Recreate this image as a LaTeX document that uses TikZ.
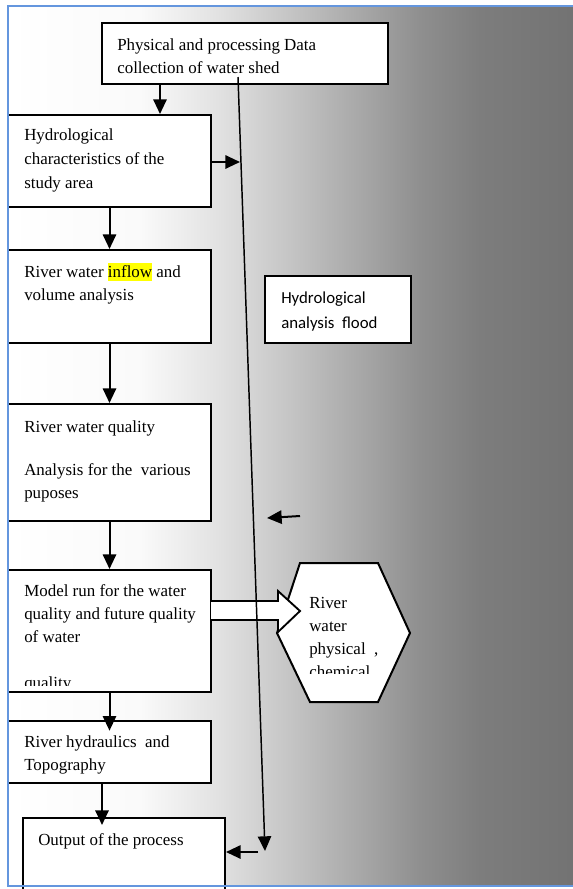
\documentclass[tikz,border=0pt]{standalone}
\usepackage{fontspec}
\setmainfont{Liberation Serif}
\newfontfamily\calib{Carlito}
\usetikzlibrary{arrows.meta,fit}
\definecolor{frameblue}{RGB}{100,150,222}
\definecolor{hlyellow}{RGB}{255,255,0}
\pgfdeclarehorizontalshading{bggrad}{100bp}{color(0bp)=(white); color(25bp)=(white); color(36.7bp)=(black!2); color(43.3bp)=(black!11); color(50bp)=(black!23); color(61.5bp)=(black!44); color(66.8bp)=(black!51); color(75bp)=(black!55); color(100bp)=(black!55)}
\newcommand{\hlword}[1]{{\setlength{\fboxsep}{0pt}\colorbox{hlyellow}{\rule[-0.22em]{0pt}{1.05em}#1}}}
\begin{document}
\begin{tikzpicture}[x=0.75pt,y=-0.75pt,
  box/.style={draw=black, line width=1.5pt, fill=white, inner sep=0pt},
  txt/.style={anchor=base west, inner sep=0pt, font=\fontsize{12.7}{17.25}\selectfont},
  arr/.style={line width=1.5pt, -{Triangle[length=11pt,width=10pt]}},
  thinarr/.style={line width=1.1pt, -{Triangle[length=11pt,width=10pt]}},
]
\useasboundingbox (0,0) rectangle (573,889);
% background frame
\shade[shading=bggrad] (8,6) rectangle (573,886);
% boxes
\node[box, fit={(102,23) (388,84)}] (b1) {};
\node[box, fit={(8,115) (211,207)}] (b2) {};
\node[box, fit={(8,250) (211,343)}] (b3) {};
\node[box, fit={(265,276) (411,343)}] (hf) {};
\node[box, fit={(8,404) (211,521)}] (b4) {};
\node[box, fit={(8,570) (211,692)}] (b5) {};
\node[box, fit={(8,721) (211,783)}] (b6) {};
\node[box, fit={(23,818) (225,892)}] (b7) {};
% hexagon
\coordinate (h1) at (300,563);
\coordinate (h2) at (378,563);
\coordinate (h3) at (410,633);
\coordinate (h4) at (378,702);
\coordinate (h5) at (310,702);
\coordinate (h6) at (277,633);
\draw[line width=1.5pt, fill=white] (h1) -- (h2) -- (h3) -- (h4) -- (h5) -- (h6) -- cycle;
% texts
\node[txt] (t1) at (117,50) {\begin{tabular}[t]{@{}l@{}}Physical and processing Data\\collection of water shed\end{tabular}};
\node[txt] (t2) at (24,140) {\begin{tabular}[t]{@{}l@{}}Hydrological\\[1pt]characteristics of\ the\\[1pt]study\ area\end{tabular}};
\node[txt] (t3) at (24,277) {\begin{tabular}[t]{@{}l@{}}River water \hlword{inflow} and\\volume analysis\end{tabular}};
\node[txt, font=\calib\fontsize{12.6}{18.75}\selectfont] (t4) at (281,303) {\begin{tabular}[t]{@{}l@{}}Hydrological\\analysis\ \ flood\end{tabular}};
\node[txt] (t5) at (24,432) {\begin{tabular}[t]{@{}l@{}}River water quality\\[15pt]Analysis for the\ \ various\\puposes\end{tabular}};
\begin{scope}
\clip (8,570) rectangle (211,685);
\node[txt] (t6) at (24,596) {\begin{tabular}[t]{@{}l@{}}Model run for the water\\quality and future quality\\of water\\ \\quality\end{tabular}};
\end{scope}
\begin{scope}
\clip (280,570) rectangle (400,673);
\node[txt] (t7) at (309,608) {\begin{tabular}[t]{@{}l@{}}River\\water\\physical\ \ ,\\chemical\end{tabular}};
\end{scope}
\node[txt] (t8) at (24,747) {\begin{tabular}[t]{@{}l@{}}River hydraulics\ \ and\\Topography\end{tabular}};
\node[txt] (t9) at (38,845) {Output of the process};
% block arrow
\coordinate (ba1) at (211,601);
\coordinate (ba7) at (211,620);
\fill[white] (ba1) -- (278,601) -- (278,591) -- (300,611) -- (278,632) -- (278,620) -- (ba7) -- cycle;
\draw[line width=1.4pt, line join=miter] (ba1) -- (278,601) -- (278,591) -- (300,611) -- (278,632) -- (278,620) -- (ba7);
% helper coordinates
\coordinate (xa) at (160,0);
\coordinate (xc) at (102,0);
\coordinate (e2) at (240,162);
\coordinate (ls) at (238,77);
\coordinate (le) at (265,851);
\coordinate (sa1) at (300,516);
\coordinate (sa2) at (267,518);
\coordinate (oa) at (258,852);
% connectors
\draw[arr] (b1.south -| xa) -- (b2.north -| xa);
\draw[arr] (b2.east |- e2) -- (e2);
\draw[arr] (b2.south) -- (b3.north);
\draw[arr] (b3.south) -- (b4.north);
\draw[arr] (b4.south) -- (b5.north);
\draw[arr, shorten >=-8pt] (b5.south) -- (b6.north);
\draw[arr, shorten >=-6pt] (b6.south -| xc) -- (b7.north -| xc);
\draw[arr] (oa) -- (b7.east |- oa);
\draw[arr] (sa1) -- (sa2);
\draw[thinarr] (ls) -- (le);
% frame border
\draw[frameblue, line width=1.5pt] (573,6) -- (8,6) -- (8,886) -- (573,886);
\end{tikzpicture}
\end{document}
